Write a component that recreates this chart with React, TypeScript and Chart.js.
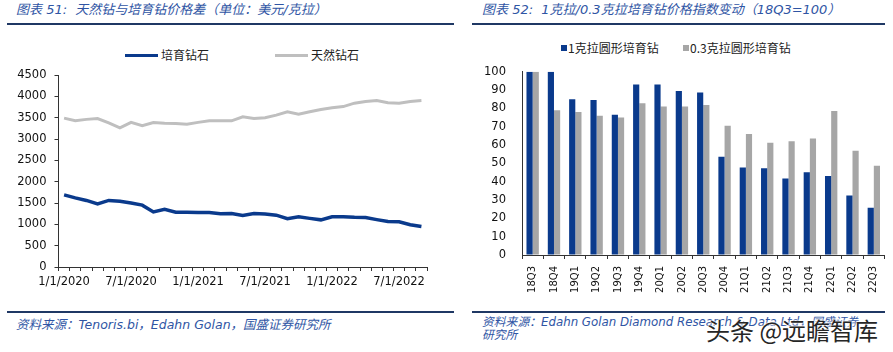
import React, { useEffect, useRef } from 'react';
import { Chart, registerables } from 'chart.js';
Chart.register(...registerables);

// ---- Left chart data (USD / carat) ----
const dateLabels = [
  '1/1/2020','2/1/2020','3/1/2020','4/1/2020','5/1/2020','6/1/2020','7/1/2020','8/1/2020','9/1/2020','10/1/2020','11/1/2020','12/1/2020',
  '1/1/2021','2/1/2021','3/1/2021','4/1/2021','5/1/2021','6/1/2021','7/1/2021','8/1/2021','9/1/2021','10/1/2021','11/1/2021','12/1/2021',
  '1/1/2022','2/1/2022','3/1/2022','4/1/2022','5/1/2022','6/1/2022','7/1/2022','8/1/2022','9/1/2022',
];
const shownDateLabels = ['1/1/2020','7/1/2020','1/1/2021','7/1/2021','1/1/2022','7/1/2022'];
const labGrown = [1690,1620,1560,1480,1560,1540,1500,1450,1290,1350,1285,1285,1280,1275,1250,1255,1210,1255,1240,1215,1130,1175,1140,1105,1175,1180,1165,1160,1110,1065,1060,990,950];
const natural = [3490,3430,3460,3480,3380,3260,3390,3310,3385,3370,3365,3345,3390,3430,3425,3425,3520,3480,3500,3560,3640,3580,3640,3690,3730,3760,3840,3880,3900,3850,3840,3880,3900];
const leftSeriesNames = ['培育钻石', '天然钻石'];

// ---- Right chart data (index, 18Q3 = 100) ----
const quarters = ['18Q3','18Q4','19Q1','19Q2','19Q3','19Q4','20Q1','20Q2','20Q3','20Q4','21Q1','21Q2','21Q3','21Q4','22Q1','22Q2','22Q3'];
const oneCarat = [100,100,85,84.5,76.5,93,93,89.5,88.7,53.6,47.8,47.3,41.8,45.1,43.1,32.5,25.8];
const pointThreeCarat = [100,79,78,76,75,82.8,81,81,81.8,70.5,66,61.3,62,63.6,78.5,56.9,48.7];
const rightSeriesNames = ['1克拉圆形培育钻', '0.3克拉圆形培育钻'];

const BLUE = '#0A3A8C';
const GREY_LINE = '#BFBFBF';
const GREY_BAR = '#A6A6A6';
const TITLE_BLUE = '#2F55A4';
const NAVY = '#1F3864';
const TICK_FONT = { family: '"DejaVu Sans", sans-serif', size: 11.5 };
const CJK = '"DejaVu Sans", "Noto Sans CJK SC", sans-serif';

export default function App() {
  const leftRef = useRef<HTMLCanvasElement>(null);
  const rightRef = useRef<HTMLCanvasElement>(null);

  useEffect(() => {
    document.body.style.margin = '0';
    const left = new Chart(leftRef.current!, {
      type: 'line',
      data: {
        labels: dateLabels,
        datasets: [
          { label: leftSeriesNames[0], data: labGrown, borderColor: BLUE, backgroundColor: BLUE, borderWidth: 3.5, pointRadius: 0, tension: 0 },
          { label: leftSeriesNames[1], data: natural, borderColor: GREY_LINE, backgroundColor: GREY_LINE, borderWidth: 3, pointRadius: 0, tension: 0 },
        ],
      },
      options: {
        responsive: false,
        animation: false,
        layout: { padding: { left: 0, top: 0, right: 23, bottom: 0 } },
        plugins: { legend: { display: false }, tooltip: { enabled: false } },
        scales: {
          x: {
            offset: true,
            grid: { offset: true, drawOnChartArea: false, drawTicks: true, tickLength: 4, color: '#333' },
            border: { display: true, color: '#333', width: 1 },
            ticks: {
              autoSkip: false, maxRotation: 0, minRotation: 0, padding: 4, color: '#111', font: TICK_FONT,
              callback: (_v: any, i: number) => (shownDateLabels.includes(dateLabels[i]) ? dateLabels[i] : ''),
            },
            afterFit: (s: any) => { s.height = 33; },
          },
          y: {
            min: 0, max: 4500,
            grid: { drawOnChartArea: false, drawTicks: true, tickLength: 4, color: '#333' },
            border: { display: true, color: '#333', width: 1 },
            ticks: { stepSize: 500, padding: 8, color: '#111', font: TICK_FONT, callback: (v: any) => String(v) },
            afterFit: (s: any) => { s.width = 58.5; s.paddingTop = 13; s.paddingBottom = 0; },
          },
        },
      },
    });

    const right = new Chart(rightRef.current!, {
      type: 'bar',
      data: {
        labels: quarters,
        datasets: [
          { label: rightSeriesNames[0], data: oneCarat, backgroundColor: BLUE },
          { label: rightSeriesNames[1], data: pointThreeCarat, backgroundColor: GREY_BAR },
        ],
      },
      options: {
        responsive: false,
        animation: false,
        layout: { padding: { left: 0, top: 0, right: 6, bottom: 0 } },
        datasets: { bar: { categoryPercentage: 0.58, barPercentage: 1 } },
        plugins: { legend: { display: false }, tooltip: { enabled: false } },
        scales: {
          x: {
            grid: { offset: true, drawOnChartArea: false, drawTicks: true, tickLength: 4, color: '#333' },
            border: { display: true, color: '#333', width: 1 },
            ticks: { autoSkip: false, maxRotation: 90, minRotation: 90, padding: 7, color: '#111', font: { family: '"DejaVu Sans", sans-serif', size: 10 } },
            afterFit: (s: any) => { s.height = 45; },
          },
          y: {
            min: 0, max: 100,
            grid: { drawOnChartArea: false, drawTicks: false },
            border: { display: true, color: '#333', width: 1 },
            ticks: { stepSize: 10, padding: 16, color: '#111', font: TICK_FONT },
            afterFit: (s: any) => { s.width = 72; s.paddingTop = 9.7; s.paddingBottom = 0; },
          },
        },
      },
    });
    return () => { left.destroy(); right.destroy(); };
  }, []);

  const abs = (l: number, t: number, extra: any = {}) => ({ position: 'absolute' as const, left: l, top: t, ...extra });
  const titleStyle = { color: TITLE_BLUE, fontStyle: 'italic', fontSize: 13, fontFamily: CJK, whiteSpace: 'nowrap' as const, lineHeight: '16px' };
  const srcStyle = { color: TITLE_BLUE, fontStyle: 'italic', fontSize: 12.5, fontFamily: CJK, whiteSpace: 'nowrap' as const, lineHeight: '13px' };
  const legStyle = { color: '#222', fontSize: 12, fontFamily: '"Noto Sans CJK SC", sans-serif', whiteSpace: 'nowrap' as const, lineHeight: '14px' };

  return (
    <div style={{ position: 'absolute', left: 0, top: 0, width: 893, height: 352, background: '#fff', overflow: 'hidden' }}>
      {/* titles */}
      <div style={abs(16, 2, titleStyle)}>图表 51:&nbsp; 天然钻与培育钻价格差（单位：美元/克拉）</div>
      <div style={abs(482, 2, titleStyle)}>图表 52:&nbsp; 1克拉/0.3克拉培育钻价格指数变动（18Q3=100）</div>
      <div style={abs(7, 23, { width: 447, height: 2, background: NAVY })} />
      <div style={abs(472, 23, { width: 413, height: 2, background: NAVY })} />

      {/* left legend */}
      <div style={abs(125, 54, { width: 33, height: 3, background: BLUE })} />
      <div style={abs(161, 48, legStyle)}>{leftSeriesNames[0]}</div>
      <div style={abs(275, 54, { width: 33, height: 3, background: GREY_LINE })} />
      <div style={abs(311, 48, legStyle)}>{leftSeriesNames[1]}</div>

      {/* right legend */}
      <div style={abs(561, 45, { width: 6, height: 6, background: BLUE })} />
      <div style={abs(568, 41, legStyle)}>{rightSeriesNames[0]}</div>
      <div style={abs(683, 45, { width: 6, height: 6, background: GREY_BAR })} />
      <div style={abs(690, 41, legStyle)}>{rightSeriesNames[1]}</div>

      <canvas ref={leftRef} width={450} height={238} style={abs(0, 62, { width: 450, height: 238 })} />
      <canvas ref={rightRef} width={443} height={238} style={abs(450, 62, { width: 443, height: 238 })} />

      {/* bottom rules and sources */}
      <div style={abs(7, 311, { width: 447, height: 2, background: NAVY })} />
      <div style={abs(472, 311, { width: 413, height: 2, background: NAVY })} />
      <div style={abs(16, 318, srcStyle)}>资料来源：Tenoris.bi，Edahn Golan，国盛证券研究所</div>
      <div style={abs(482, 316, { ...srcStyle, fontSize: 11.8 })}>资料来源：Edahn Golan Diamond Research &amp; Data Ltd，国盛证券</div>
      <div style={abs(482, 329, { ...srcStyle, fontSize: 11.8 })}>研究所</div>
      <div style={abs(706, 315, { color: '#262626', fontSize: 24, fontFamily: '"Noto Sans CJK SC", sans-serif', whiteSpace: 'nowrap', lineHeight: '30px', textShadow: '0 0 2px #fff, 0 0 2px #fff, 0 0 3px #fff' })}>头条 @远瞻智库</div>
    </div>
  );
}
